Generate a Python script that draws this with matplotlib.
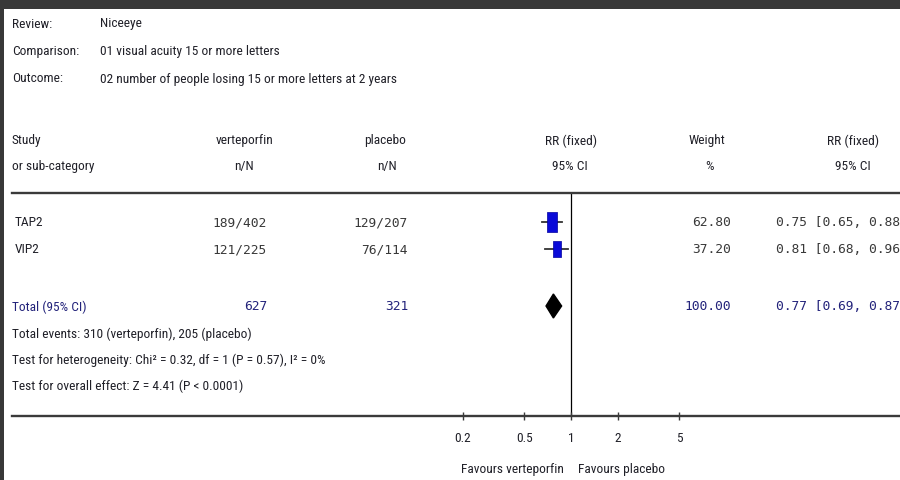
import numpy as np
import matplotlib
matplotlib.use("Agg")
import matplotlib.pyplot as plt
from matplotlib.patches import Rectangle

# ---- data -------------------------------------------------------------
review = "Niceeye"
comparison = "01 visual acuity 15 or more letters"
outcome = "02 number of people losing 15 or more letters at 2 years"

studies = ["TAP2", "VIP2"]
events_trt = [189, 121]
total_trt = [402, 225]
events_ctl = [129, 76]
total_ctl = [207, 114]
weights = [62.80, 37.20]
rr = [0.75, 0.81]
ci_low = [0.65, 0.68]
ci_high = [0.88, 0.96]

pooled_rr = 0.77
pooled_low = 0.69
pooled_high = 0.87
pooled_weight = 100.00

heterogeneity = "Test for heterogeneity: Chi\u00b2 = 0.32, df = 1 (P = 0.57), I\u00b2 = 0%"
overall_effect = "Test for overall effect: Z = 4.41 (P < 0.0001)"

tick_values = [0.2, 0.5, 1, 2, 5]
tick_labels = ["0.2", "0.5", "1", "2", "5"]
favours_left = "Favours verteporfin"
favours_right = "Favours placebo"

# ---- layout / style ---------------------------------------------------
W, H = 900, 481
SANS = ["Roboto Condensed", "Noto Sans Condensed", "Open Sans Condensed",
        "DejaVu Sans Condensed", "Liberation Sans Narrow", "Liberation Sans"]
MONO = ["DejaVu Sans Mono"]
FS = 9.6
INK = "#202028"
NAVY = "#22227a"
MONO_INK = "#383838"
RULE = "#3a3a3a"

X_LEFT = 12          # left edge of the table
X_NULL = 571         # pixel position of RR = 1
PX_DECADE = 155      # pixels per factor of ten on the RR axis
Y_TOP_RULE = 194
Y_AXIS = 417

row_y = [223, 250]
total_y = 307

fig = plt.figure(figsize=(W / 100, H / 100), dpi=100)
fig.patch.set_facecolor("white")

# full-figure pixel canvas for text and the window frame
bg = fig.add_axes([0, 0, 1, 1])
bg.set_xlim(0, W)
bg.set_ylim(H, 0)
bg.axis("off")
bg.add_patch(Rectangle((0, 0), W, 10, color="#383838", lw=0))
bg.add_patch(Rectangle((0, 0), 4, H, color="#383838", lw=0))


def sans(x, y, s, ha="left", color=INK, size=FS):
    bg.text(x, y, s, ha=ha, va="center", family=SANS, stretch="condensed",
            fontsize=size, color=color)


def mono(x, y, s, ha="right", color=MONO_INK):
    bg.text(x, y, s, ha=ha, va="center", family=MONO, fontsize=9.3, color=color)


# title block
for y, lab, val in [(24, "Review:", review), (52, "Comparison:", comparison), (79, "Outcome:", outcome)]:
    sans(X_LEFT, y, lab)
    sans(100, y, val)

# column headers
sans(X_LEFT, 141, "Study")
sans(X_LEFT, 167, "or sub-category")
sans(245, 141, "verteporfin", ha="center")
sans(244, 167, "n/N", ha="center")
sans(385, 141, "placebo", ha="center")
sans(387, 167, "n/N", ha="center")
sans(571, 141, "RR (fixed)", ha="center")
sans(570, 167, "95% CI", ha="center")
sans(707, 141, "Weight", ha="center")
sans(710, 167, "%", ha="center")
sans(853, 141, "RR (fixed)", ha="center")
sans(853, 167, "95% CI", ha="center")

# study rows
for i, name in enumerate(studies):
    y = row_y[i]
    sans(15, y, name)
    mono(267, y, f"{events_trt[i]}/{total_trt[i]}")
    mono(408, y, f"{events_ctl[i]}/{total_ctl[i]}")
    mono(731, y, f"{weights[i]:.2f}")
    mono(776, y, f"{rr[i]:.2f} [{ci_low[i]:.2f}, {ci_high[i]:.2f}]", ha="left")

# pooled row
sans(X_LEFT, total_y, "Total (95% CI)", color=NAVY)
mono(267, total_y, f"{sum(total_trt)}", color=NAVY)
mono(408, total_y, f"{sum(total_ctl)}", color=NAVY)
mono(731, total_y, f"{pooled_weight:.2f}", color=NAVY)
mono(776, total_y, f"{pooled_rr:.2f} [{pooled_low:.2f}, {pooled_high:.2f}]", ha="left", color=NAVY)

sans(X_LEFT, 334, f"Total events: {sum(events_trt)} (verteporfin), {sum(events_ctl)} (placebo)")
sans(X_LEFT, 360, heterogeneity)
sans(X_LEFT, 386, overall_effect)

sans(X_NULL - 7, 470, favours_left, ha="right")
sans(X_NULL + 7, 470, favours_right, ha="left")

# ---- forest panel on a log RR scale ------------------------------------
ax = fig.add_axes([X_LEFT / W, 1 - Y_AXIS / H, (W - X_LEFT) / W, (Y_AXIS - Y_TOP_RULE) / H])
ax.patch.set_alpha(0)
ax.set_xscale("log")
ax.set_xlim(10 ** ((X_LEFT - X_NULL) / PX_DECADE), 10 ** ((W - X_NULL) / PX_DECADE))
ax.set_ylim(Y_AXIS, Y_TOP_RULE)

for side in ("left", "right"):
    ax.spines[side].set_visible(False)
for side in ("top", "bottom"):
    ax.spines[side].set_color(RULE)
    ax.spines[side].set_linewidth(1.7)

ax.set_yticks([])
ax.xaxis.set_minor_locator(matplotlib.ticker.NullLocator())
ax.set_xticks(tick_values)
ax.set_xticklabels(tick_labels, family=SANS, stretch="condensed", fontsize=FS, color=INK)
ax.tick_params(axis="x", direction="inout", length=6, width=1.0, color=RULE, pad=8)

ax.axvline(1, color="black", lw=0.9, zorder=1)

# study estimates: box area grows with weight, tall boxes
box = [(-0.27, -0.5), (0.27, -0.5), (0.27, 0.5), (-0.27, 0.5), (-0.27, -0.5)]
for i in range(len(studies)):
    y = row_y[i]
    ax.plot([ci_low[i], ci_high[i]], [y, y], color="#333333", lw=1.3, zorder=2)
    ax.plot([rr[i]], [y], marker=box, markersize=1.8 * np.sqrt(weights[i]),
            color="#0a0ad8", markeredgecolor="#0000a0", markeredgewidth=0.5, zorder=3)

# pooled diamond
ax.fill([pooled_low, pooled_rr, pooled_high, pooled_rr],
        [total_y, total_y - 12, total_y, total_y + 12], color="black", zorder=3)

fig.savefig("out.png", dpi=100, facecolor="white")
